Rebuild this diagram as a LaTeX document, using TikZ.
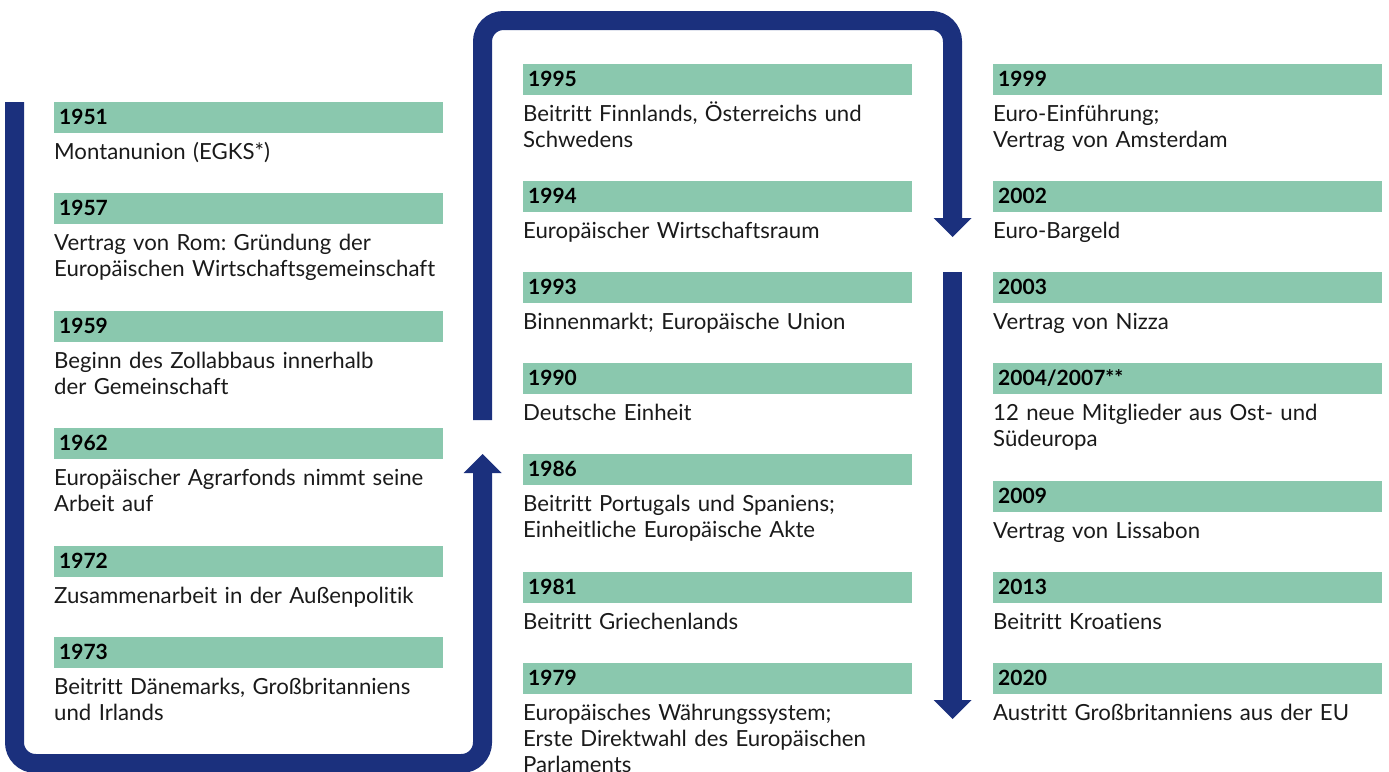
\documentclass[tikz,border=0pt]{standalone}
\usepackage{fontspec}
\setmainfont[Ligatures=NoCommon]{Lato}
\usetikzlibrary{arrows.meta,calc}
\frenchspacing
\definecolor{bargreen}{HTML}{8AC8AE}
\definecolor{flowblue}{HTML}{1B307D}
\definecolor{ink}{HTML}{1A1A1A}
\tikzset{
  yearbar/.style={fill=bargreen, anchor=north west, text width=379pt,
    inner xsep=5pt, inner ysep=0pt, text height=22pt, text depth=9pt,
    align=left, font=\fontsize{21}{24}\selectfont\bfseries, text=black},
  desc/.style={anchor=base west, text width=440pt, inner sep=0pt,
    align=left, font=\fontsize{22.2}{26}\selectfont, text=ink},
  flow/.style={draw=flowblue, line width=19pt, rounded corners=21pt,
    -{Triangle[width=38pt,length=19pt,line width=0pt]}}
}
% one timeline entry: name, x, y of the bar, year, description
\newcommand{\tlentry}[5]{%
  \node[yearbar] (#1) at (#2,#3) {#4};
  \node[desc] (#1d) at ($(#1.south west)+(0,26)$) {#5};
}
\begin{document}
\begin{tikzpicture}[x=1pt,y=-1pt]
\useasboundingbox (0,0) rectangle (1389,771);

% flow of time
\coordinate (aStart) at (14.5,102);
\coordinate (aBL) at (14.5,763.5);
\coordinate (aBR) at (482.5,763.5);
\coordinate (aEnd) at (482.5,454);
\coordinate (bStart) at (482.5,420);
\coordinate (bTL) at (482.5,20.5);
\coordinate (bTR) at (952.5,20.5);
\coordinate (bEnd) at (952.5,237);
\coordinate (cStart) at (952.5,272);
\coordinate (cEnd) at (952.5,719);
\draw[flow] (aStart) -- (aBL) -- (aBR) -- (aEnd);
\draw[flow] (bStart) -- (bTL) -- (bTR) -- (bEnd);
\draw[flow] (cStart) -- (cEnd);

% left column
\tlentry{e1951}{54}{102}{1951}{Montanunion (EGKS*)}
\tlentry{e1957}{54}{193}{1957}{Vertrag von Rom: Gründung der\\Europäischen Wirtschaftsgemeinschaft}
\tlentry{e1959}{54}{311}{1959}{Beginn des Zollabbaus innerhalb\\der Gemeinschaft}
\tlentry{e1962}{54}{428}{1962}{Europäischer Agrarfonds nimmt seine\\Arbeit auf}
\tlentry{e1972}{54}{546}{1972}{Zusammenarbeit in der Außenpolitik}
\tlentry{e1973}{54}{637}{1973}{Beitritt Dänemarks, Großbritanniens\\und Irlands}

% middle column
\tlentry{e1995}{523}{64}{1995}{Beitritt Finnlands, Österreichs und\\Schwedens}
\tlentry{e1994}{523}{181}{1994}{Europäischer Wirtschaftsraum}
\tlentry{e1993}{523}{272}{1993}{Binnenmarkt; Europäische Union}
\tlentry{e1990}{523}{363}{1990}{Deutsche Einheit}
\tlentry{e1986}{523}{454}{1986}{Beitritt Portugals und Spaniens;\\Einheitliche Europäische Akte}
\tlentry{e1981}{523}{572}{1981}{Beitritt Griechenlands}
\tlentry{e1979}{523}{663}{1979}{Europäisches Währungssystem;\\Erste Direktwahl des Europäischen\\Parlaments}

% right column
\tlentry{e1999}{993}{64}{1999}{Euro-Einführung;\\Vertrag von Amsterdam}
\tlentry{e2002}{993}{181}{2002}{Euro-Bargeld}
\tlentry{e2003}{993}{272}{2003}{Vertrag von Nizza}
\tlentry{e2004}{993}{363}{2004/2007**}{12 neue Mitglieder aus Ost- und\\Südeuropa}
\tlentry{e2009}{993}{481}{2009}{Vertrag von Lissabon}
\tlentry{e2013}{993}{572}{2013}{Beitritt Kroatiens}
\tlentry{e2020}{993}{663}{2020}{Austritt Großbritanniens aus der EU}
\end{tikzpicture}
\end{document}
